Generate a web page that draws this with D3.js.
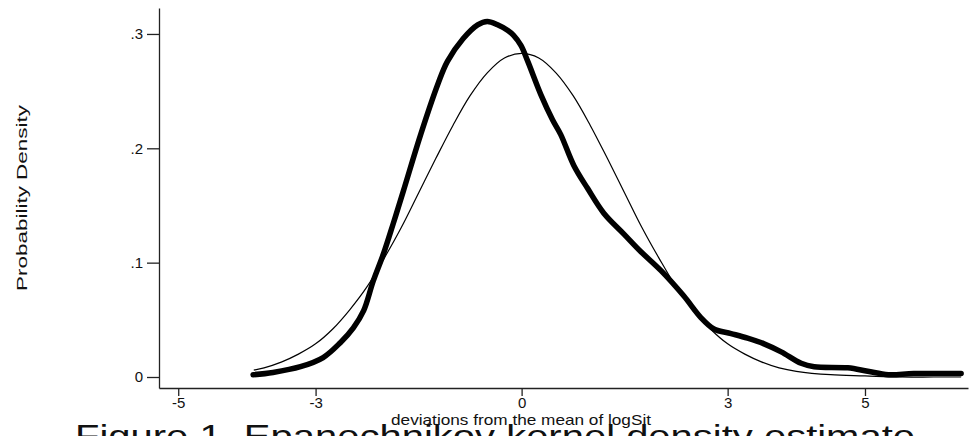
<!DOCTYPE html>
<html>
<head>
<meta charset="utf-8">
<script src="https://cdn.jsdelivr.net/npm/d3@7"></script>
<style>
  body { margin: 0; background: #fff; }
  text { font-family: "Liberation Sans", Arial, sans-serif; fill: #111; }
</style>
</head>
<body>
<script>
// kernel density estimate (thick line)
const kernelX = [-3.91, -3.62, -3.22, -2.89, -2.64, -2.45, -2.30, -2.16, -2.01, -1.87,
  -1.72, -1.47, -1.22, -1.08, -0.85, -0.64, -0.50, -0.35, -0.20, -0.12, -0.01, 0.09,
  0.28, 0.45, 0.57, 0.76, 0.96, 1.20, 1.49, 1.73, 2.03, 2.36, 2.61, 2.80, 3.05, 3.29,
  3.53, 3.78, 4.07, 4.26, 4.75, 5.04, 5.34, 5.71, 6.40];
const kernelY = [0.002, 0.004, 0.009, 0.017, 0.030, 0.043, 0.058, 0.084, 0.108, 0.134,
  0.163, 0.212, 0.256, 0.276, 0.296, 0.308, 0.311, 0.308, 0.303, 0.299, 0.290, 0.276,
  0.247, 0.225, 0.212, 0.185, 0.165, 0.143, 0.125, 0.110, 0.093, 0.071, 0.052, 0.042,
  0.038, 0.034, 0.029, 0.022, 0.012, 0.009, 0.008, 0.005, 0.002, 0.003, 0.003];

// normal density (thin line)
const normalX = [-3.9, -3.75, -3.5, -3.25, -3.0, -2.75, -2.5, -2.25, -2.0, -1.75, -1.5,
  -1.25, -1.0, -0.75, -0.5, -0.25, 0, 0.25, 0.5, 0.75, 1.0, 1.25, 1.5, 1.75, 2.0, 2.25,
  2.5, 2.75, 3.0, 3.25, 3.5, 3.75, 4.0, 4.5, 5.0, 5.5, 6.0, 6.4];
const normalY = [0.006, 0.008, 0.013, 0.020, 0.029, 0.042, 0.059, 0.079, 0.104, 0.131,
  0.161, 0.191, 0.220, 0.246, 0.266, 0.279, 0.283, 0.279, 0.266, 0.246, 0.220, 0.191,
  0.161, 0.131, 0.104, 0.079, 0.059, 0.042, 0.029, 0.020, 0.013, 0.008, 0.005, 0.002,
  0.001, 0.000, 0.000, 0.000];

const xTicks = [-5, -3, 0, 3, 5];
const xTickLabels = ["-5", "-3", "0", "3", "5"];
const yTicks = [0, 0.1, 0.2, 0.3];
const yTickLabels = ["0", ".1", ".2", ".3"];

const w = 971;
const h = 436;

const svg = d3.select("body")
  .append("svg")
  .attr("width", w)
  .attr("height", h);

const x = d3.scaleLinear().domain([-5.28, 6.5]).range([159, 968]);
const y = d3.scaleLinear().domain([-0.00962, 0.3227]).range([388, 8]);

// axes
const yAxis = svg.append("g")
  .attr("transform", "translate(159,0)")
  .call(d3.axisLeft(y)
    .tickValues(yTicks)
    .tickFormat((d, i) => yTickLabels[i])
    .tickSize(12)
    .tickPadding(4)
    .tickSizeOuter(0));

const xAxis = svg.append("g")
  .attr("transform", "translate(0,388)")
  .call(d3.axisBottom(x)
    .tickValues(xTicks)
    .tickFormat((d, i) => xTickLabels[i])
    .tickSize(8)
    .tickPadding(1)
    .tickSizeOuter(0));

[yAxis, xAxis].forEach((g) => {
  g.select(".domain").attr("stroke", "#222").attr("stroke-width", 1.3);
  g.selectAll(".tick line").attr("stroke", "#222").attr("stroke-width", 1.3);
  g.selectAll(".tick text")
    .attr("fill", "#111")
    .style("font-family", "'Liberation Sans', Arial, sans-serif")
    .style("font-size", "15px");
});

// curves
const line = d3.line()
  .x((d) => x(d[0]))
  .y((d) => y(d[1]))
  .curve(d3.curveCatmullRom);

svg.append("path")
  .datum(normalX.map((v, i) => [v, normalY[i]]))
  .attr("d", line)
  .attr("fill", "none")
  .attr("stroke", "#000")
  .attr("stroke-width", 1.2);

svg.append("path")
  .datum(kernelX.map((v, i) => [v, kernelY[i]]))
  .attr("d", line)
  .attr("fill", "none")
  .attr("stroke", "#000")
  .attr("stroke-width", 5.5)
  .attr("stroke-linecap", "round")
  .attr("stroke-linejoin", "round");

// titles
svg.append("text")
  .attr("transform", "translate(27,198) rotate(-90)")
  .attr("text-anchor", "middle")
  .attr("textLength", 186)
  .attr("lengthAdjust", "spacingAndGlyphs")
  .style("font-size", "15px")
  .text("Probability Density");

svg.append("text")
  .attr("x", 521)
  .attr("y", 425)
  .attr("text-anchor", "middle")
  .attr("textLength", 260)
  .attr("lengthAdjust", "spacingAndGlyphs")
  .style("font-size", "15px")
  .text("deviations from the mean of logSit");

svg.append("text")
  .attr("x", 495)
  .attr("y", 447)
  .attr("text-anchor", "middle")
  .attr("textLength", 840)
  .attr("lengthAdjust", "spacingAndGlyphs")
  .style("font-size", "32px")
  .text("Figure 1. Epanechnikov kernel density estimate");
</script>
</body>
</html>
